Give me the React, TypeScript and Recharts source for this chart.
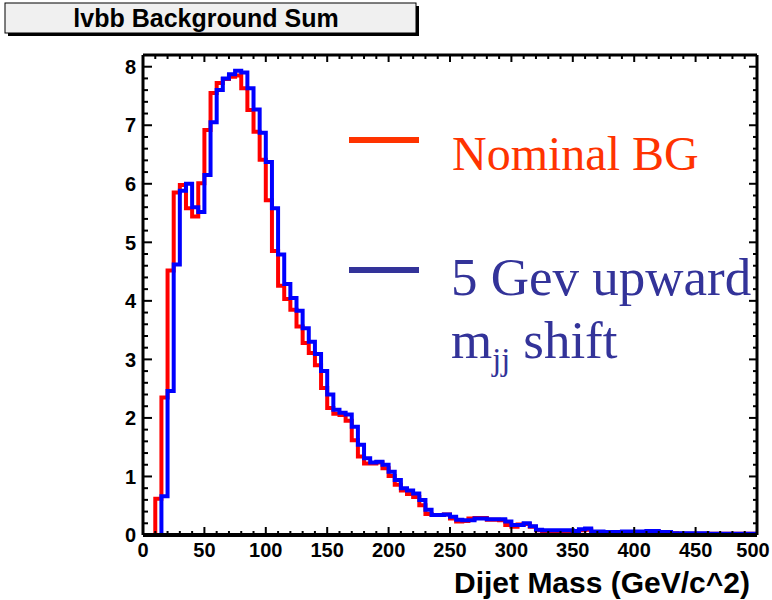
import { LineChart, Line, XAxis, YAxis } from 'recharts';

// 5 GeV bins, lower edges 0..495 plus the closing edge at 500
const binEdges = Array.from({ length: 101 }, (_, i) => i * 5);

const nominalBG = [
  0, 0, 0.62, 2.35, 4.52, 5.85, 5.98, 5.58, 5.44, 6.01,
  6.92, 7.55, 7.72, 7.79, 7.83, 7.85, 7.63, 7.26, 6.89, 6.41,
  5.72, 4.85, 4.26, 4.03, 3.85, 3.56, 3.28, 3.11, 2.9, 2.51,
  2.17, 2.07, 2.05, 1.95, 1.62, 1.34, 1.22, 1.22, 1.24, 1.14,
  1.01, 0.86, 0.76, 0.7, 0.65, 0.51, 0.36, 0.34, 0.34, 0.35,
  0.28, 0.23, 0.24, 0.28, 0.29, 0.29, 0.26, 0.26, 0.25, 0.17,
  0.14, 0.18, 0.19, 0.14, 0.08, 0.06, 0.06, 0.05, 0.05, 0.04,
  0.05, 0.08, 0.09, 0.04, 0.03, 0.03, 0.04, 0.04, 0.05, 0.05,
  0.05, 0.05, 0.06, 0.06, 0.04, 0.03, 0.03, 0.02, 0.02, 0.02,
  0.02, 0.02, 0.02, 0.02, 0.02, 0.02, 0.02, 0.02, 0.02, 0.02,
];

const shiftedBG = [
  0, 0, 0, 0.66, 2.46, 4.62, 5.88, 6.0, 5.6, 5.52,
  6.15, 7.05, 7.6, 7.8, 7.87, 7.93, 7.9, 7.63, 7.27, 6.87,
  6.37, 5.58, 4.79, 4.29, 4.05, 3.83, 3.53, 3.3, 3.09, 2.8,
  2.4, 2.14, 2.09, 2.06, 1.85, 1.54, 1.31, 1.24, 1.25, 1.2,
  1.08, 0.94, 0.8, 0.76, 0.71, 0.6, 0.43, 0.34, 0.34, 0.35,
  0.31, 0.26, 0.25, 0.25, 0.28, 0.28, 0.27, 0.27, 0.27, 0.23,
  0.17, 0.17, 0.2, 0.15, 0.09, 0.08, 0.08, 0.08, 0.08, 0.08,
  0.07, 0.1, 0.11, 0.06, 0.06, 0.05, 0.05, 0.05, 0.06, 0.06,
  0.06, 0.06, 0.07, 0.07, 0.05, 0.05, 0.03, 0.03, 0.03, 0.03,
  0.03, 0.03, 0.02, 0.02, 0.02, 0.02, 0.02, 0.02, 0.02, 0.02,
];

const xTicks = Array.from({ length: 51 }, (_, i) => i * 10);
const yTicks = Array.from({ length: 42 }, (_, i) => Math.round(i * 2) / 10);

const rows = binEdges.map((m, i) => ({
  m,
  nominal: nominalBG[Math.min(i, nominalBG.length - 1)],
  shifted: shiftedBG[Math.min(i, shiftedBG.length - 1)],
}));

const labelFont = { fontFamily: 'Liberation Sans, Arial, sans-serif', fontWeight: 700, fontSize: 20, fill: '#000' };

const isMajorY = (v: number) => Math.abs(v - Math.round(v)) < 1e-6;

const BottomTick = ({ x, y, payload }: any) => {
  const major = payload.value % 50 === 0;
  // last label would run past the page edge, nudge it in a bit
  const lx = payload.value === 500 ? x - 4 : x;
  return (
    <g>
      <line x1={x} x2={x} y1={y} y2={y - (major ? 8 : 4)} stroke="#000" strokeWidth={2} />
      {major && (
        <text x={lx} y={y + 22} textAnchor="middle" {...labelFont}>{payload.value}</text>
      )}
    </g>
  );
};

const TopTick = ({ x, y, payload }: any) => {
  const major = payload.value % 50 === 0;
  return <line x1={x} x2={x} y1={y} y2={y + (major ? 7 : 4)} stroke="#000" strokeWidth={2} />;
};

const LeftTick = ({ x, y, payload }: any) => {
  const major = isMajorY(payload.value);
  return (
    <g>
      <line x1={x} x2={x + (major ? 9 : 5)} y1={y} y2={y} stroke="#000" strokeWidth={2} />
      {major && (
        <text x={x - 7} y={y} dy="0.36em" textAnchor="end" {...labelFont}>{Math.round(payload.value)}</text>
      )}
    </g>
  );
};

const RightTick = ({ x, y, payload }: any) => {
  const major = isMajorY(payload.value);
  return <line x1={x} x2={x - (major ? 8 : 4)} y1={y} y2={y} stroke="#000" strokeWidth={2} />;
};

const App = () => {
  return (
    <div style={{ position: 'absolute', left: 0, top: 0, width: 772, height: 600, background: '#fff' }}>
      <LineChart width={772} height={600} data={rows} margin={{ top: 54, right: 14, bottom: 64, left: 142 }}>
        <XAxis
          dataKey="m"
          type="number"
          domain={[0, 500]}
          ticks={xTicks}
          interval={0}
          height={1}
          tickSize={0}
          tickMargin={0}
          tickLine={false}
          tick={<BottomTick />}
          axisLine={{ stroke: '#000', strokeWidth: 4 }}
          allowDataOverflow
        />
        <XAxis
          xAxisId="top"
          orientation="top"
          dataKey="m"
          type="number"
          domain={[0, 500]}
          ticks={xTicks}
          interval={0}
          height={1}
          tickSize={0}
          tickMargin={0}
          tickLine={false}
          tick={<TopTick />}
          axisLine={{ stroke: '#000', strokeWidth: 3 }}
          allowDataOverflow
        />
        <YAxis
          type="number"
          domain={[0, 8.2]}
          ticks={yTicks}
          interval={0}
          width={1}
          tickSize={0}
          tickMargin={0}
          tickLine={false}
          tick={<LeftTick />}
          axisLine={{ stroke: '#000', strokeWidth: 3 }}
          allowDataOverflow
        />
        <YAxis
          yAxisId="right"
          orientation="right"
          type="number"
          domain={[0, 8.2]}
          ticks={yTicks}
          interval={0}
          width={1}
          tickSize={0}
          tickMargin={0}
          tickLine={false}
          tick={<RightTick />}
          axisLine={{ stroke: '#000', strokeWidth: 3 }}
          allowDataOverflow
        />
        <Line type="stepAfter" dataKey="nominal" stroke="#ff0000" strokeWidth={4} dot={false} isAnimationActive={false} />
        <Line type="stepAfter" dataKey="shifted" stroke="#0000ff" strokeWidth={4} dot={false} isAnimationActive={false} />
      </LineChart>

      <svg width={772} height={600} style={{ position: 'absolute', left: 0, top: 0, pointerEvents: 'none' }}>
        <rect x={8} y={6} width={411} height={30} fill="#000" />
        <rect x={5} y={3} width={411} height={30} fill="#f0f0f0" stroke="#000" strokeWidth={1} />
        <text x={206} y={27} textAnchor="middle" fontFamily="Liberation Sans, Arial, sans-serif" fontWeight={700} fontSize={25} fill="#000">
          lvbb Background Sum
        </text>

        <line x1={349} x2={419} y1={140} y2={140} stroke="#ff3300" strokeWidth={6} />
        <text x={452} y={170} fontFamily="Liberation Serif, Times New Roman, serif" fontSize={48} fill="#ff3300">
          Nominal BG
        </text>
        <line x1={349} x2={419} y1={270} y2={270} stroke="#333399" strokeWidth={6} />
        <text x={451} y={295} fontFamily="Liberation Serif, Times New Roman, serif" fontSize={53} fill="#333399">
          5 Gev upward
        </text>
        <text x={451} y={358} fontFamily="Liberation Serif, Times New Roman, serif" fontSize={53} fill="#333399">
          m<tspan fontSize={32} dy={12}>jj</tspan><tspan dy={-12}> shift</tspan>
        </text>

        <text x={750} y={593} textAnchor="end" fontFamily="Liberation Sans, Arial, sans-serif" fontWeight={700} fontSize={30} fill="#000">
          Dijet Mass (GeV/c^2)
        </text>
      </svg>
    </div>
  );
};

export default App;
